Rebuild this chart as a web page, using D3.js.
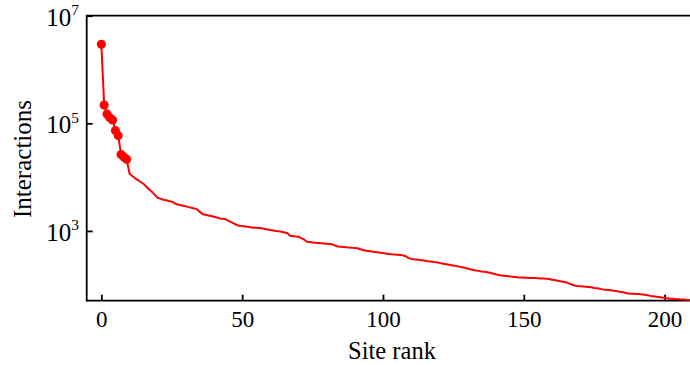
<!DOCTYPE html>
<html>
<head>
<meta charset="utf-8">
<script src="https://cdn.jsdelivr.net/npm/d3@7/dist/d3.min.js"></script>
<style>
  html, body { margin: 0; padding: 0; background: #ffffff; }
  svg { display: block; }
</style>
</head>
<body>
<svg id="chart" width="690" height="365"></svg>
<script>
// Interactions per site, ordered by site rank (index = rank).
const interactions = [
  2940000, 219000, 149000, 127000, 115000, 73500, 58900, 26300, 23700, 21400,
  11600, 10500, 9500, 8810, 8130, 7500, 6610, 5890, 5310, 4680,
  4140, 3980, 3800, 3720, 3590, 3490, 3270, 3090, 3020, 2940,
  2860, 2770, 2700, 2620, 2510, 2260, 2040, 1995, 1940, 1890,
  1830, 1770, 1710, 1690, 1660, 1550, 1460, 1380, 1290, 1250,
  1230, 1210, 1190, 1170, 1150, 1140, 1130, 1120, 1090, 1060,
  1040, 1020, 1000, 984, 966, 938, 912, 815, 804, 791,
  780, 733, 692, 631, 622, 612, 604, 597, 590, 583,
  577, 570, 564, 537, 513, 507, 501, 495, 491, 485,
  481, 475, 457, 442, 429, 422, 414, 407, 400, 394,
  387, 380, 373, 367, 363, 360, 356, 352, 339, 316,
  302, 297, 293, 288, 284, 279, 274, 270, 265, 261,
  255, 249, 243, 238, 232, 227, 222, 217, 212, 207,
  200, 194, 188, 184, 181, 177, 174, 171, 167, 162,
  157, 151, 149, 147, 145, 143, 141, 139, 137, 136,
  136, 135, 134, 133, 133, 132, 131, 130, 129, 128,
  124, 122, 119, 116, 114, 111, 106, 101, 97, 95,
  94, 93, 92, 91, 90, 87, 86, 84, 82, 81,
  80, 79, 77, 76, 74, 73, 71, 69, 68, 68,
  67, 67, 66, 65, 64, 62, 61, 60, 59, 58,
  57, 56, 55, 55, 54, 54, 53, 53, 52, 52
];
// Number of top-ranked sites drawn with point markers.
const markedSites = 10;

const xTicks = [0, 50, 100, 150, 200];
const yTicks = [1e3, 1e5, 1e7];
const xDomain = [-5.2, 211.5];
const yDomain = [50.5, 1e7];

const xLabel = "Site rank";
const yLabel = "Interactions";

const plot = { left: 86.7, right: 697, top: 15.7, bottom: 300.7 };
const red = "#ff0000";
const serif = '"Liberation Serif", "DejaVu Serif", serif';

const svg = d3.select("#chart");

const x = d3.scaleLinear().domain(xDomain).range([plot.left, plot.right]);
const y = d3.scaleLog().domain(yDomain).range([plot.bottom, plot.top]);

// Spines: left, top, bottom
const spines = svg.append("g").attr("stroke", "#000").attr("stroke-width", 1.8).attr("fill", "none");
spines.append("line").attr("x1", plot.left).attr("x2", plot.left).attr("y1", plot.top - 0.9).attr("y2", plot.bottom + 0.9);
spines.append("line").attr("x1", plot.left).attr("x2", plot.right).attr("y1", plot.top).attr("y2", plot.top);
spines.append("line").attr("x1", plot.left).attr("x2", plot.right).attr("y1", plot.bottom).attr("y2", plot.bottom);

// X axis: inward ticks
const xAxis = svg.append("g")
  .attr("transform", `translate(0,${plot.bottom})`)
  .call(d3.axisBottom(x).tickValues(xTicks).tickSize(-6).tickPadding(10).tickFormat(d3.format("d")));
xAxis.attr("font-family", null).attr("font-size", null).style("font-family", serif);
xAxis.select(".domain").remove();
xAxis.selectAll(".tick line").attr("stroke", "#000").attr("stroke-width", 1.8);
xAxis.selectAll(".tick text")
  .style("font-family", serif)
  .style("font-size", "23px")
  .attr("fill", "#000")
  .attr("dy", null)
  .attr("y", 26.3);

// Y axis: inward ticks, labels as powers of ten
const yAxis = svg.append("g")
  .attr("transform", `translate(${plot.left},0)`)
  .call(d3.axisLeft(y).tickValues(yTicks).tickSize(-6).tickFormat(() => ""));
yAxis.attr("font-family", null).attr("font-size", null).style("font-family", serif);
yAxis.select(".domain").remove();
yAxis.selectAll(".tick line").attr("stroke", "#000").attr("stroke-width", 1.8);
yAxis.selectAll(".tick text").remove();
yAxis.selectAll(".tick").each(function (d) {
  const t = d3.select(this).append("text")
    .attr("x", -7.7)
    .attr("y", 9.4)
    .attr("text-anchor", "end")
    .attr("fill", "#000")
    .style("font-family", serif)
    .style("font-size", "25px");
  t.append("tspan").text("10");
  t.append("tspan")
    .style("font-size", "15.5px")
    .attr("dy", -10.5)
    .text(String(Math.round(Math.log10(d))));
});

// Axis titles
svg.append("text")
  .attr("x", 392)
  .attr("y", 359)
  .attr("text-anchor", "middle")
  .style("font-family", serif)
  .style("font-size", "24.5px")
  .text(xLabel);

svg.append("text")
  .attr("transform", "translate(31,159) rotate(-90)")
  .attr("text-anchor", "middle")
  .style("font-family", serif)
  .style("font-size", "25px")
  .text(yLabel);

// Series line
svg.append("defs").append("clipPath").attr("id", "plot-clip")
  .append("rect")
  .attr("x", plot.left).attr("y", plot.top)
  .attr("width", plot.right - plot.left).attr("height", plot.bottom - plot.top);

const line = d3.line()
  .x((d, i) => x(i))
  .y(d => y(d));

svg.append("path")
  .datum(interactions)
  .attr("clip-path", "url(#plot-clip)")
  .attr("fill", "none")
  .attr("stroke", red)
  .attr("stroke-width", 2)
  .attr("stroke-linejoin", "round")
  .attr("d", line);

svg.append("g")
  .selectAll("circle")
  .data(interactions.slice(0, markedSites))
  .join("circle")
  .attr("cx", (d, i) => x(i))
  .attr("cy", d => y(d))
  .attr("r", 4.5)
  .attr("fill", red);
</script>
</body>
</html>
